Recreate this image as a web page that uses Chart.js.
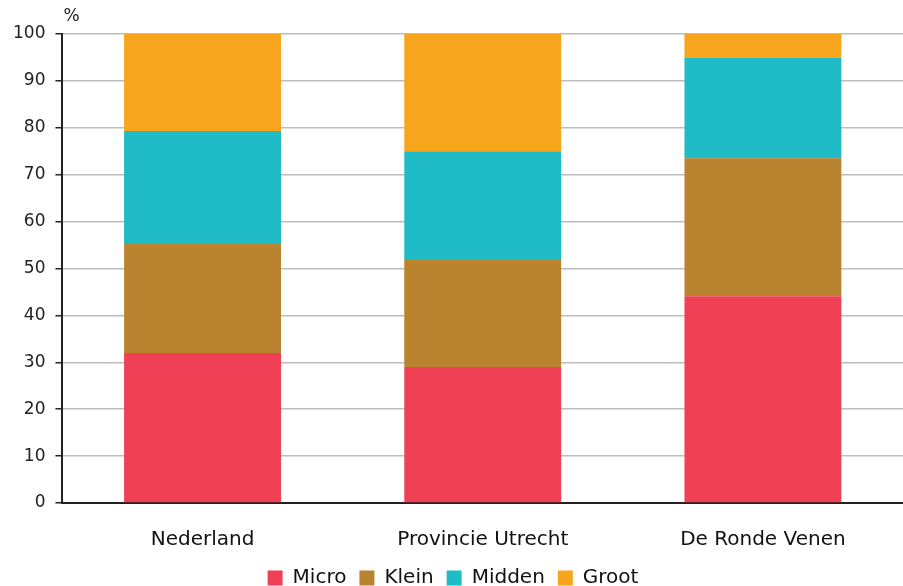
<!DOCTYPE html>
<html>
<head>
<meta charset="utf-8">
<script src="https://cdn.jsdelivr.net/npm/chart.js@4"></script>
<style>
  html, body { margin: 0; padding: 0; background: #fff; }
  #wrap { width: 903px; height: 586px; }
</style>
</head>
<body>
<div id="wrap"><canvas id="chart" width="903" height="586"></canvas></div>
<script>
const categories = ['Nederland', 'Provincie Utrecht', 'De Ronde Venen'];
const micro = [32.0, 29.0, 44.1];
const klein = [23.2, 22.8, 29.4];
const midden = [24.1, 23.2, 21.5];
const groot = [20.7, 25.0, 5.0];
const yTicks = [0, 10, 20, 30, 40, 50, 60, 70, 80, 90, 100];

const FONT = 'DejaVu Sans';

// "%" above the y axis
const unitLabel = {
  id: 'unitLabel',
  afterDraw(chart) {
    const { ctx, chartArea } = chart;
    ctx.save();
    ctx.font = `17px "${FONT}"`;
    ctx.fillStyle = '#222';
    ctx.textAlign = 'left';
    ctx.textBaseline = 'middle';
    ctx.fillText('%', chartArea.left + 1, 17);
    ctx.restore();
  }
};

const series = [
  { label: 'Micro', data: micro, color: '#EF4056' },
  { label: 'Klein', data: klein, color: '#B98330' },
  { label: 'Midden', data: midden, color: '#1FBBC6' },
  { label: 'Groot', data: groot, color: '#F8A51E' }
];

new Chart(document.getElementById('chart'), {
  type: 'bar',
  data: {
    labels: categories,
    datasets: series.map((s) => ({
      label: s.label,
      data: s.data,
      backgroundColor: s.color,
      borderWidth: 0,
      categoryPercentage: 1,
      barPercentage: 0.56
    }))
  },
  options: {
    responsive: false,
    animation: false,
    layout: { padding: { top: 34, right: 0, left: 3, bottom: -12 } },
    plugins: {
      tooltip: { enabled: false },
      legend: {
        position: 'bottom',
        labels: {
          font: { family: FONT, size: 20 },
          color: '#111',
          boxWidth: 15,
          boxHeight: 15,
          padding: 13
        }
      }
    },
    scales: {
      x: {
        stacked: true,
        afterFit(scale) {
          scale.height = 52;
        },
        grid: { display: false, drawTicks: false },
        border: { display: true, color: '#222', width: 2 },
        ticks: {
          font: { family: FONT, size: 20 },
          color: '#111',
          padding: 25
        }
      },
      y: {
        stacked: true,
        min: 0,
        max: 100,
        afterBuildTicks(axis) {
          axis.ticks = yTicks.map((v) => ({ value: v }));
        },
        grid: {
          color: '#bdbdbd',
          lineWidth: 1.5,
          tickLength: 7,
          tickColor: '#222'
        },
        border: { display: true, color: '#222', width: 2 },
        ticks: {
          font: { family: FONT, size: 17 },
          color: '#222',
          padding: 10
        }
      }
    }
  },
  plugins: [unitLabel]
});
</script>
</body>
</html>
